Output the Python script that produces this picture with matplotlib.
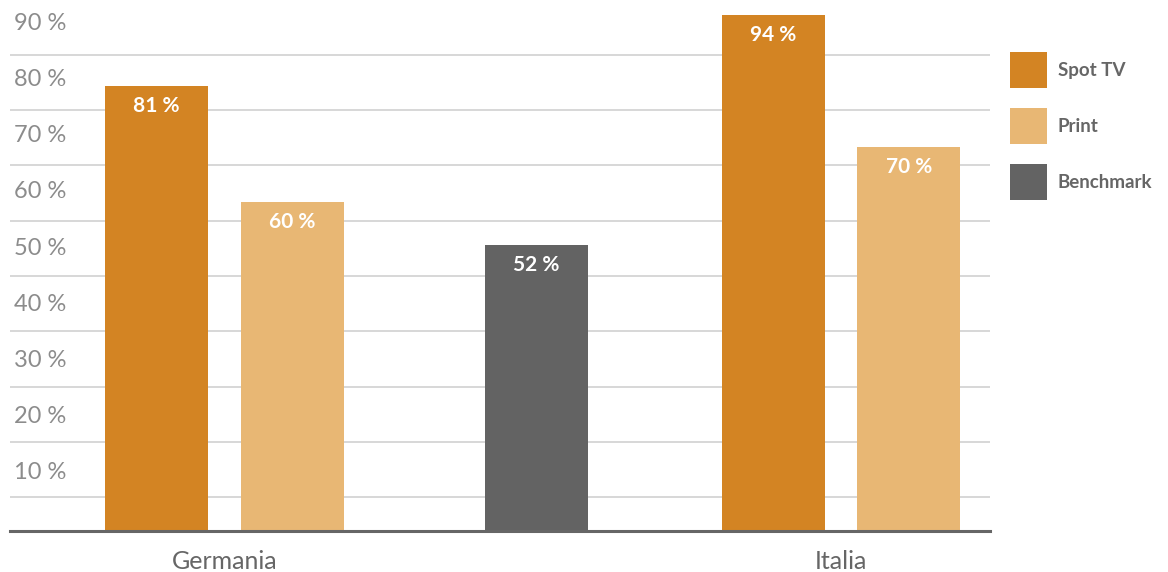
import matplotlib
matplotlib.use("Agg")
import matplotlib.pyplot as plt
import numpy as np

# data
countries = ["Germania", "Italia"]
spot_tv = [81, 94]
printed = [60, 70]
benchmark = 52
series_names = ["Spot TV", "Print", "Benchmark"]
colors = ["#D38423", "#E8B774", "#636363"]

# axis text (label positions, gridlines are offset from them)
ytick_names = ["10 %", "20 %", "30 %", "40 %", "50 %", "60 %", "70 %", "80 %", "90 %"]
ytick_pos = [11.1, 21.3, 31.5, 41.7, 51.9, 62.1, 72.3, 82.5, 92.7]
grid_pos = [6.2, 16.2, 26.2, 36.4, 46.4, 56.5, 66.7, 76.7, 86.7]

plt.rcParams['font.family'] = ['Lato', 'DejaVu Sans']

fig = plt.figure(figsize=(11.68, 5.72), dpi=100)
ax = fig.add_axes([10/1168, 1 - 531/572, 980/1168, 531/572])

x = np.arange(len(countries))
w = 0.167
off = 0.11
b1 = ax.bar(x - off, spot_tv, w, color=colors[0], label=series_names[0], zorder=2)
b2 = ax.bar(x + off, printed, w, color=colors[1], label=series_names[1], zorder=2)
b3 = ax.bar([0.506], [benchmark], w, color=colors[2], label=series_names[2], zorder=2)

for bars in (b1, b2, b3):
    for r in bars:
        h = r.get_height()
        ax.annotate(f"{h:.0f} %", (r.get_x() + r.get_width()/2, h),
                    xytext=(0, -20), textcoords="offset pixels",
                    ha="center", va="center", color="white",
                    fontsize=15, fontweight="bold", zorder=3)

ax.set_xlim(-0.348, 1.242)
ax.set_ylim(0, 96.7)

ax.set_xticks(x, countries)
ax.tick_params(axis="x", length=0, pad=14, labelsize=18, labelcolor="#666666")

ax.set_yticks(ytick_pos, ytick_names)
ax.set_yticks(grid_pos, minor=True)
ax.tick_params(axis="y", which="both", length=0, pad=-3, labelsize=17,
               labelcolor="#8c8c8c")
for t in ax.get_yticklabels():
    t.set_horizontalalignment("left")
ax.grid(which="minor", axis="y", color="#d4d4d4", linewidth=1.3, zorder=0)
ax.grid(which="major", visible=False)

for s in ["top", "right", "left"]:
    ax.spines[s].set_visible(False)
ax.spines["bottom"].set_color("#666666")
ax.spines["bottom"].set_linewidth(2.2)
ax.spines["bottom"].set_zorder(4)

leg = fig.legend(handles=[b1, b2, b3], loc="upper left",
                 bbox_to_anchor=(995/1168, 1 - 37/572), frameon=False,
                 fontsize=13.5, handlelength=1.95, handleheight=2.6,
                 labelspacing=1.05, handletextpad=0.6, borderpad=0.3)
for t in leg.get_texts():
    t.set_color("#666666")
    t.set_fontweight("bold")

fig.savefig("out.png", dpi=100)
